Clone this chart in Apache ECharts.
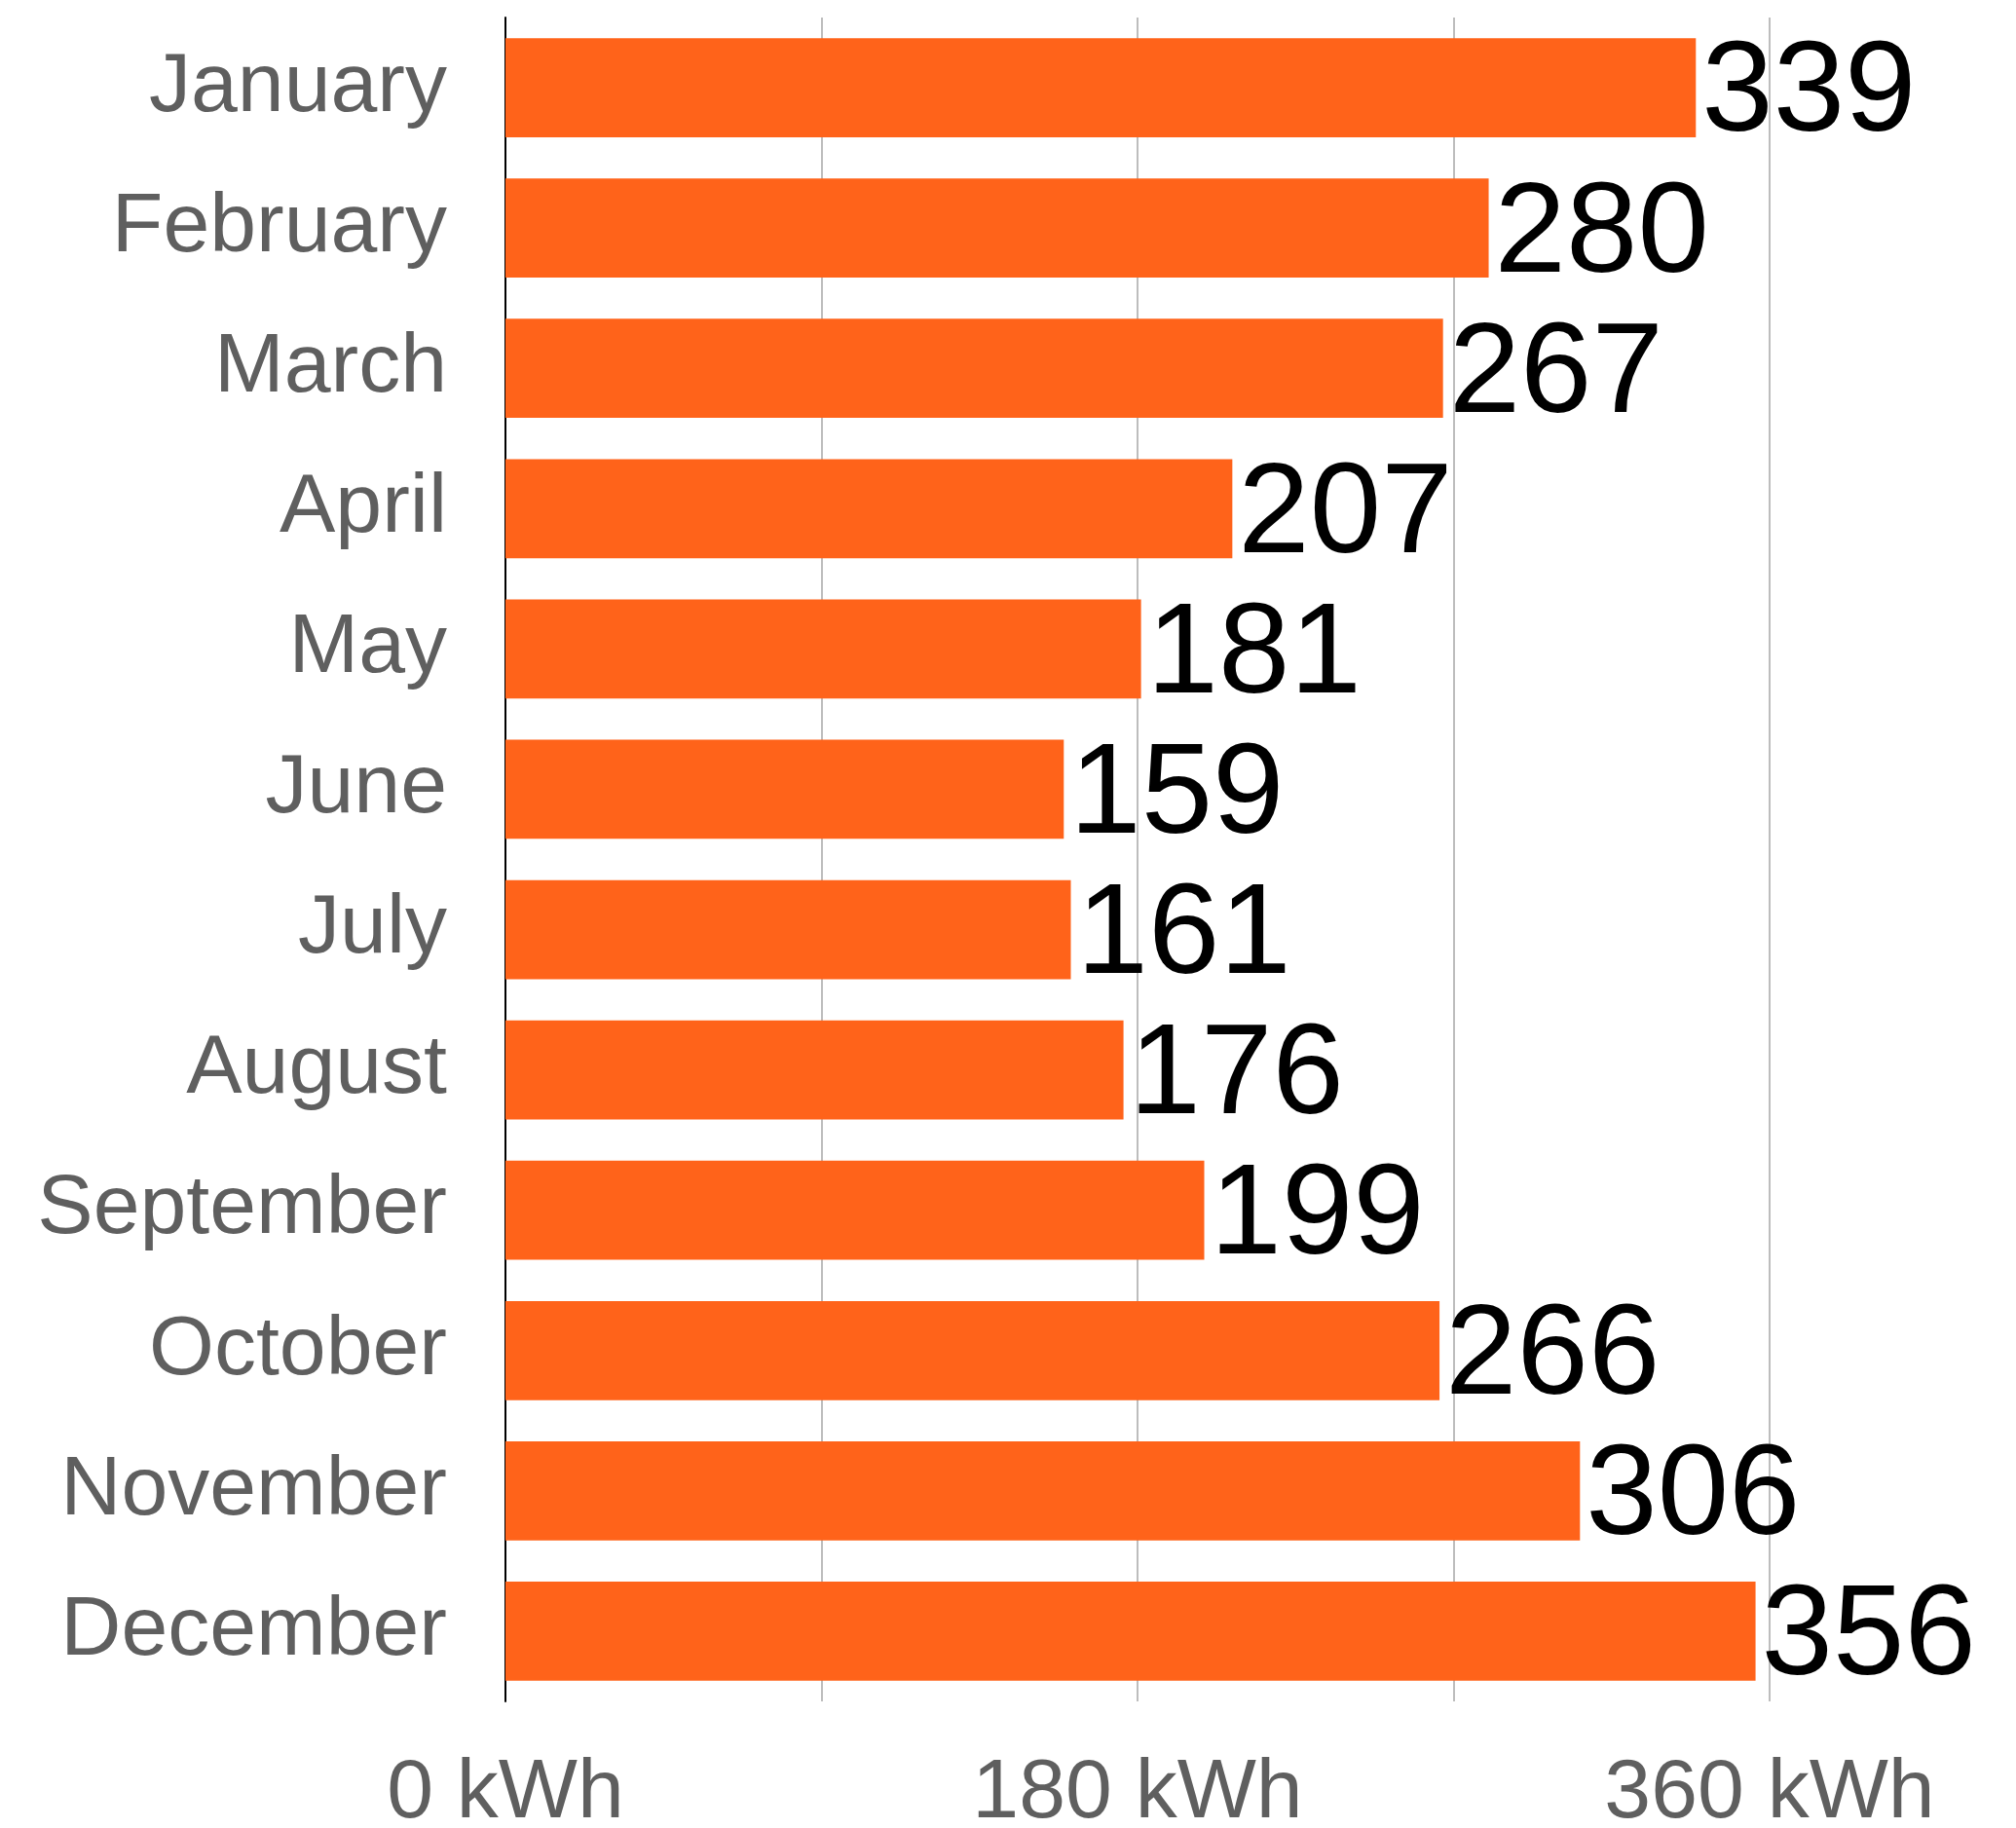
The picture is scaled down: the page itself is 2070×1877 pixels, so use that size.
<!DOCTYPE html>
<html>
<head>
<meta charset="utf-8">
<script src="https://cdn.jsdelivr.net/npm/echarts@6/dist/echarts.min.js"></script>
<style>
html,body{margin:0;padding:0;background:#fff;}
#chart{width:2070px;height:1877px;}
</style>
</head>
<body>
<div id="chart"></div>
<script>
const months = ["January","February","March","April","May","June","July","August","September","October","November","December"];
const kwh = [339, 280, 267, 207, 181, 159, 161, 176, 199, 266, 306, 356];
const tickUnit = " kWh";

const chart = echarts.init(document.getElementById('chart'), null, {renderer:'canvas'});
chart.setOption({
  animation: false,
  backgroundColor: '#ffffff',
  grid: {left: 519, right: 253, top: 18, bottom: 130, containLabel: false, outerBoundsMode: 'none'},
  xAxis: {
    type: 'value', min: 0, max: 360, interval: 90,
    axisLine: {show: false}, axisTick: {show: false},
    splitLine: {show: true, lineStyle: {color: '#bdbdbd', width: 2}},
    axisLabel: {
      color: '#5f5f5f', fontSize: 86, fontFamily: 'Liberation Sans, Arial, sans-serif',
      margin: 52,
      formatter: v => (v % 180 === 0 ? v + tickUnit : '')
    }
  },
  yAxis: {
    type: 'category', data: months, inverse: true,
    axisLine: {show: true, lineStyle: {color: '#000000', width: 2}},
    axisTick: {show: false},
    splitLine: {show: false},
    axisLabel: {color: '#5f5f5f', fontSize: 86, fontFamily: 'Liberation Sans, Arial, sans-serif', margin: 60, padding: [6, 0, 0, 0]}
  },
  series: [{
    type: 'bar', data: kwh, barCategoryGap: '29.4%',
    itemStyle: {color: '#FF631A'},
    label: {show: true, position: 'right', distance: 6, offset: [0, 8], color: '#000000', fontSize: 132, fontFamily: 'Liberation Sans, Arial, sans-serif'}
  }]
});
</script>
</body>
</html>
